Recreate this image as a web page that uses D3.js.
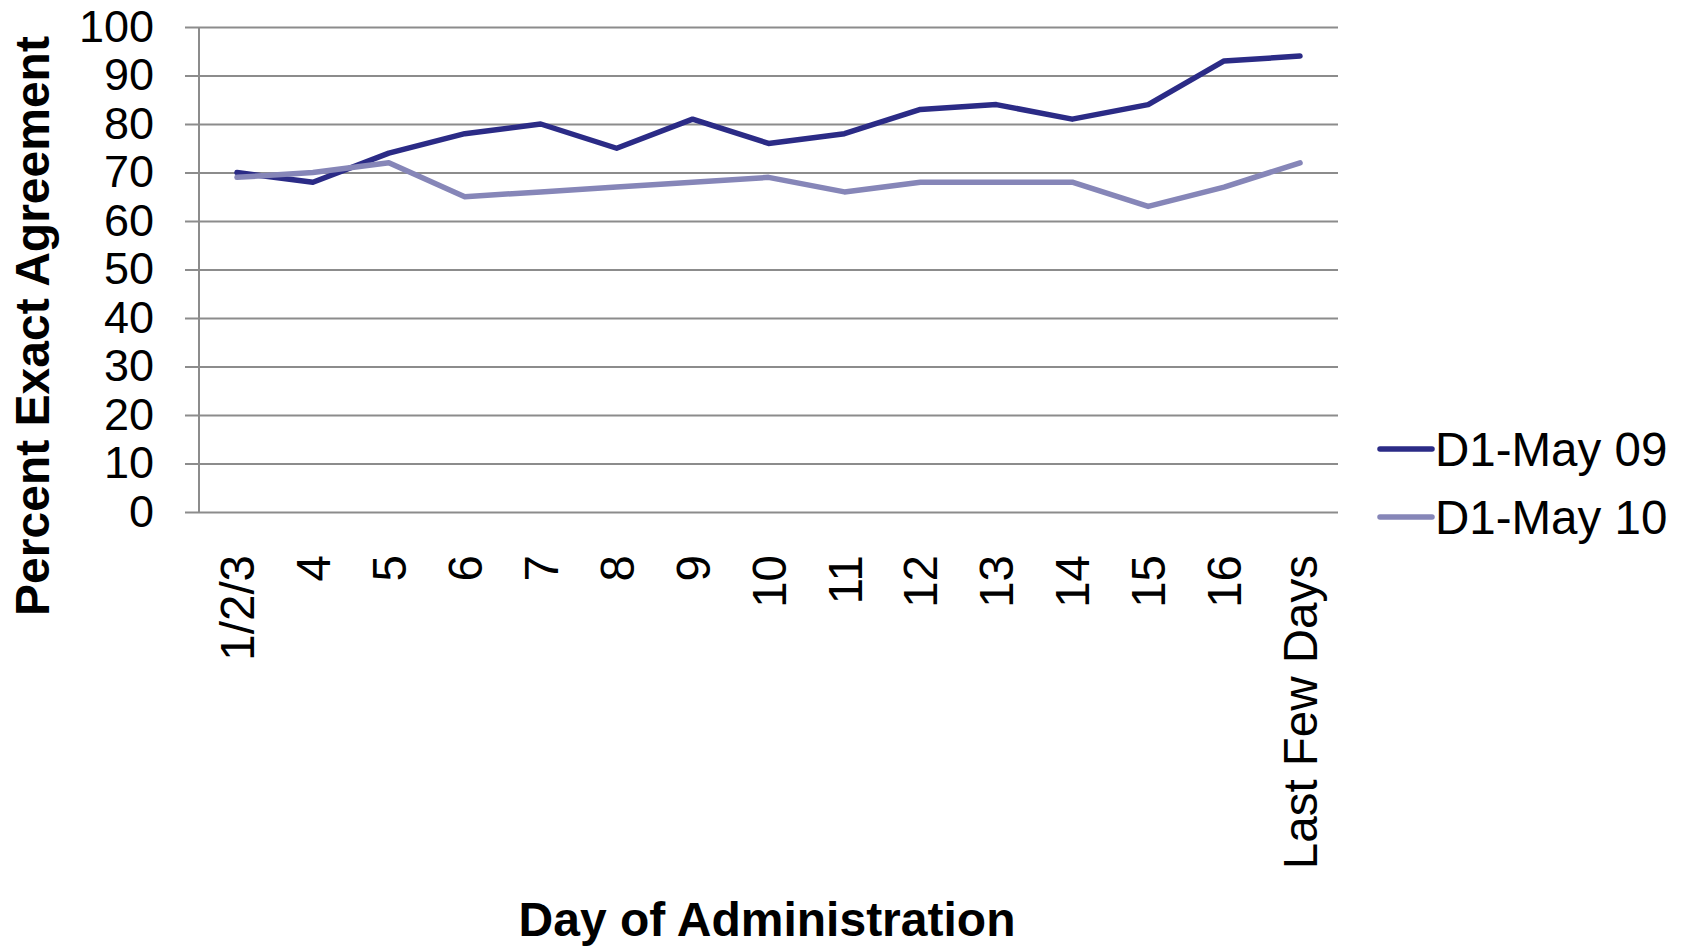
<!DOCTYPE html>
<html>
<head>
<meta charset="utf-8">
<script src="https://cdn.jsdelivr.net/npm/d3@7"></script>
<style>
  html, body { margin: 0; padding: 0; background: #fff; }
  svg { display: block; font-family: "Liberation Sans", Arial, sans-serif; }
</style>
</head>
<body>
<svg id="chart" width="1689" height="947"></svg>
<script>
// Day of administration categories
const days = ["1/2/3", "4", "5", "6", "7", "8", "9", "10", "11", "12", "13", "14", "15", "16", "Last Few Days"];
// Percent exact agreement per day
const may09 = [70, 68, 74, 78, 80, 75, 81, 76, 78, 83, 84, 81, 84, 93, 94];
const may10 = [69, 70, 72, 65, 66, 67, 68, 69, 66, 68, 68, 68, 63, 67, 72];
const yTicks = [0, 10, 20, 30, 40, 50, 60, 70, 80, 90, 100];
const seriesNames = ["D1-May 09", "D1-May 10"];
const seriesColors = ["#2b2b86", "#8686b8"];

const svg = d3.select("#chart");
const margin = { left: 199, right: 1338, top: 27, bottom: 512 };
const fontSize = 47.5;
const yTickFont = 45;

const x = d3.scalePoint().domain(days).range([margin.left, margin.right]).padding(0.5);
const y = d3.scaleLinear().domain([0, 100]).range([margin.bottom, margin.top]);

// Horizontal gridlines with outside tick marks
const yAxis = d3.axisLeft(y).tickValues(yTicks).tickSize(-(margin.right - margin.left)).tickPadding(46).tickFormat(d3.format("d"));
const gy = svg.append("g").attr("transform", `translate(${margin.left},0)`).call(yAxis);
gy.select(".domain").remove();
gy.selectAll(".tick line").attr("stroke", "#8c8c8c").attr("stroke-width", 2).attr("x1", -14);
gy.selectAll(".tick text").attr("font-size", yTickFont).attr("fill", "#000")
  .attr("font-family", "Liberation Sans, Arial, sans-serif").attr("dx", 0).attr("x", -45);

// Vertical axis line
svg.append("line")
  .attr("x1", margin.left).attr("x2", margin.left)
  .attr("y1", margin.top).attr("y2", margin.bottom)
  .attr("stroke", "#8c8c8c").attr("stroke-width", 2);

// Category labels, rotated
const xAxis = d3.axisBottom(x).tickSize(0).tickPadding(0);
const gx = svg.append("g").attr("transform", `translate(0,${margin.bottom})`).call(xAxis);
gx.select(".domain").remove();
gx.selectAll(".tick text")
  .attr("font-size", fontSize).attr("fill", "#000")
  .attr("font-family", "Liberation Sans, Arial, sans-serif")
  .attr("transform", "rotate(-90)")
  .attr("x", -43).attr("y", 0).attr("dy", "0.35em")
  .attr("text-anchor", "end");

// Series lines
const line = d3.line().x((d, i) => x(days[i])).y(d => y(d));
[may09, may10].forEach((vals, k) => {
  svg.append("path")
    .datum(vals)
    .attr("fill", "none")
    .attr("stroke", seriesColors[k])
    .attr("stroke-width", 5.5)
    .attr("stroke-linejoin", "round")
    .attr("stroke-linecap", "round")
    .attr("d", line);
});

// Axis titles
svg.append("text")
  .attr("transform", "translate(32,326) rotate(-90)")
  .attr("text-anchor", "middle").attr("dy", "0.35em")
  .attr("font-size", 48).attr("font-weight", "bold").attr("fill", "#000")
  .text("Percent Exact Agreement");

svg.append("text")
  .attr("x", 767).attr("y", 919)
  .attr("text-anchor", "middle").attr("dy", "0.35em")
  .attr("font-size", 48).attr("font-weight", "bold").attr("fill", "#000")
  .text("Day of Administration");

// Legend
const legend = svg.append("g");
seriesNames.forEach((name, k) => {
  const ly = 449 + k * 68;
  legend.append("line")
    .attr("x1", 1380).attr("x2", 1432).attr("y1", ly).attr("y2", ly)
    .attr("stroke", seriesColors[k]).attr("stroke-width", 5.5).attr("stroke-linecap", "round");
  legend.append("text")
    .attr("x", 1435).attr("y", ly).attr("dy", "0.35em")
    .attr("font-size", fontSize).attr("fill", "#000")
    .text(name);
});
</script>
</body>
</html>
